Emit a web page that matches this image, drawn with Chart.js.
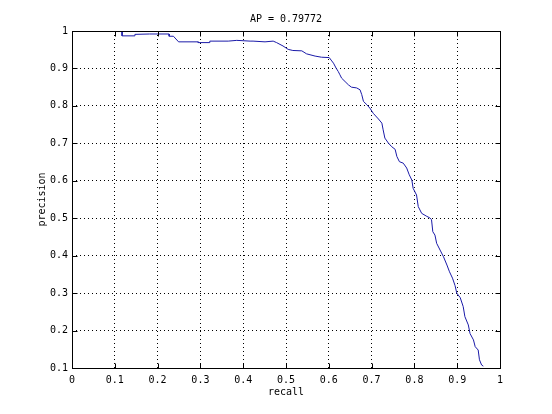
<!DOCTYPE html>
<html lang="en">
<head>
    <meta charset="UTF-8">
    <title>AP curve</title>
    <script src="https://cdn.jsdelivr.net/npm/chart.js"></script>
    <style>
        body { margin: 0; background: #fff; }
    </style>
</head>
<body>
    <canvas id="prChart" width="552" height="414"></canvas>

    <script>
        // valores
        var tituloTexto = 'AP = 0.79772';
        var recall = [0.117, 0.117, 0.147, 0.147, 0.181, 0.227, 0.227, 0.237, 0.249, 0.295,
                      0.295, 0.322, 0.322, 0.365, 0.385, 0.416, 0.423, 0.451, 0.470, 0.478,
                      0.493, 0.505, 0.516, 0.537, 0.548, 0.568, 0.583, 0.601, 0.607, 0.611,
                      0.617, 0.622, 0.626, 0.630, 0.638, 0.646, 0.653, 0.665, 0.673, 0.677,
                      0.681, 0.689, 0.696, 0.704, 0.716, 0.724, 0.727, 0.731, 0.739, 0.747,
                      0.755, 0.759, 0.765, 0.774, 0.782, 0.788, 0.794, 0.797, 0.805, 0.809,
                      0.817, 0.829, 0.836, 0.840, 0.843, 0.848, 0.852, 0.860, 0.868, 0.876,
                      0.882, 0.889, 0.895, 0.899, 0.907, 0.914, 0.918, 0.926, 0.930, 0.938,
                      0.942, 0.949, 0.952, 0.957, 0.961];
        var precision = [1.000, 0.987, 0.987, 0.991, 0.992, 0.992, 0.986, 0.986, 0.971, 0.971,
                         0.969, 0.969, 0.973, 0.973, 0.975, 0.973, 0.973, 0.971, 0.973, 0.969,
                         0.960, 0.951, 0.948, 0.947, 0.939, 0.933, 0.930, 0.929, 0.920, 0.914,
                         0.901, 0.892, 0.883, 0.874, 0.865, 0.856, 0.850, 0.848, 0.843, 0.830,
                         0.812, 0.803, 0.794, 0.780, 0.765, 0.754, 0.736, 0.714, 0.701, 0.691,
                         0.684, 0.665, 0.651, 0.647, 0.634, 0.616, 0.602, 0.580, 0.562, 0.531,
                         0.513, 0.505, 0.501, 0.496, 0.464, 0.455, 0.433, 0.415, 0.397, 0.375,
                         0.357, 0.340, 0.320, 0.300, 0.288, 0.264, 0.237, 0.215, 0.192, 0.175,
                         0.157, 0.148, 0.122, 0.108, 0.105];
        var xTickLabels = ['0', '0.1', '0.2', '0.3', '0.4', '0.5', '0.6', '0.7', '0.8', '0.9', '1'];
        var yTickLabels = ['0.1', '0.2', '0.3', '0.4', '0.5', '0.6', '0.7', '0.8', '0.9', '1'];

        var fuente = { family: 'DejaVu Sans Mono', size: 10 };

        // puntos (x, y) para la curva
        var puntos = recall.map(function (r, i) { return { x: r, y: precision[i] }; });

        // caja, marcas hacia adentro y titulo centrado sobre el area, estilo matlab
        var cajaPlugin = {
            id: 'caja',
            afterDraw: function (chart) {
                var ctx = chart.ctx;
                var a = chart.chartArea;
                var l = Math.round(a.left) + 0.5, r = Math.round(a.right) + 0.5;
                var t = Math.round(a.top) + 0.5, b = Math.round(a.bottom) + 0.5;
                ctx.save();
                ctx.strokeStyle = '#000';
                ctx.lineWidth = 1;
                ctx.setLineDash([]);
                ctx.beginPath();
                chart.scales.x.ticks.forEach(function (tk) {
                    var px = Math.round(chart.scales.x.getPixelForValue(tk.value)) + 0.5;
                    ctx.moveTo(px, b); ctx.lineTo(px, b - 5);
                    ctx.moveTo(px, t); ctx.lineTo(px, t + 5);
                });
                chart.scales.y.ticks.forEach(function (tk) {
                    var py = Math.round(chart.scales.y.getPixelForValue(tk.value)) + 0.5;
                    ctx.moveTo(l, py); ctx.lineTo(l + 5, py);
                    ctx.moveTo(r, py); ctx.lineTo(r - 5, py);
                });
                ctx.stroke();
                ctx.strokeRect(l, t, r - l, b - t);

                // titulo
                ctx.fillStyle = '#000';
                ctx.font = '10px "DejaVu Sans Mono"';
                ctx.textAlign = 'center';
                ctx.textBaseline = 'middle';
                ctx.fillText(tituloTexto, (a.left + a.right) / 2, 19);
                ctx.restore();
            }
        };

        var ctxPR = document.getElementById('prChart').getContext('2d');
        var prChart = new Chart(ctxPR, {
            type: 'scatter',
            data: {
                datasets: [{
                    data: puntos,
                    showLine: true,
                    borderColor: '#1a1aa8',
                    borderWidth: 1,
                    pointRadius: 0,
                    tension: 0,
                    fill: false,
                    clip: false
                }]
            },
            options: {
                responsive: false,
                devicePixelRatio: 1,
                animation: false,
                layout: { padding: { left: 0, right: 52, top: 31, bottom: 0 } },
                plugins: {
                    legend: { display: false },
                    tooltip: { enabled: false },
                    title: { display: false }
                },
                scales: {
                    x: {
                        type: 'linear',
                        min: 0,
                        max: 1,
                        afterFit: function (s) { s.height = 46; },
                        grid: { color: '#000', drawTicks: false },
                        border: { display: false, dash: [1, 3] },
                        ticks: {
                            stepSize: 0.1,
                            autoSkip: false,
                            maxRotation: 0,
                            padding: 6,
                            color: '#000',
                            font: fuente,
                            callback: function (v, i) { return xTickLabels[i]; }
                        },
                        title: {
                            display: true,
                            text: 'recall',
                            color: '#000',
                            font: fuente,
                            padding: { top: 0, bottom: 16 }
                        }
                    },
                    y: {
                        type: 'linear',
                        min: 0.1,
                        max: 1,
                        afterFit: function (s) { s.width = 72; },
                        grid: { color: '#000', drawTicks: false },
                        border: { display: false, dash: [1, 3] },
                        ticks: {
                            stepSize: 0.1,
                            autoSkip: false,
                            padding: 4,
                            color: '#000',
                            font: fuente,
                            callback: function (v, i) { return yTickLabels[i]; }
                        },
                        title: {
                            display: true,
                            text: 'precision',
                            color: '#000',
                            font: fuente,
                            padding: { top: 36, bottom: 0 }
                        }
                    }
                }
            },
            plugins: [cajaPlugin]
        });
    </script>
</body>
</html>
